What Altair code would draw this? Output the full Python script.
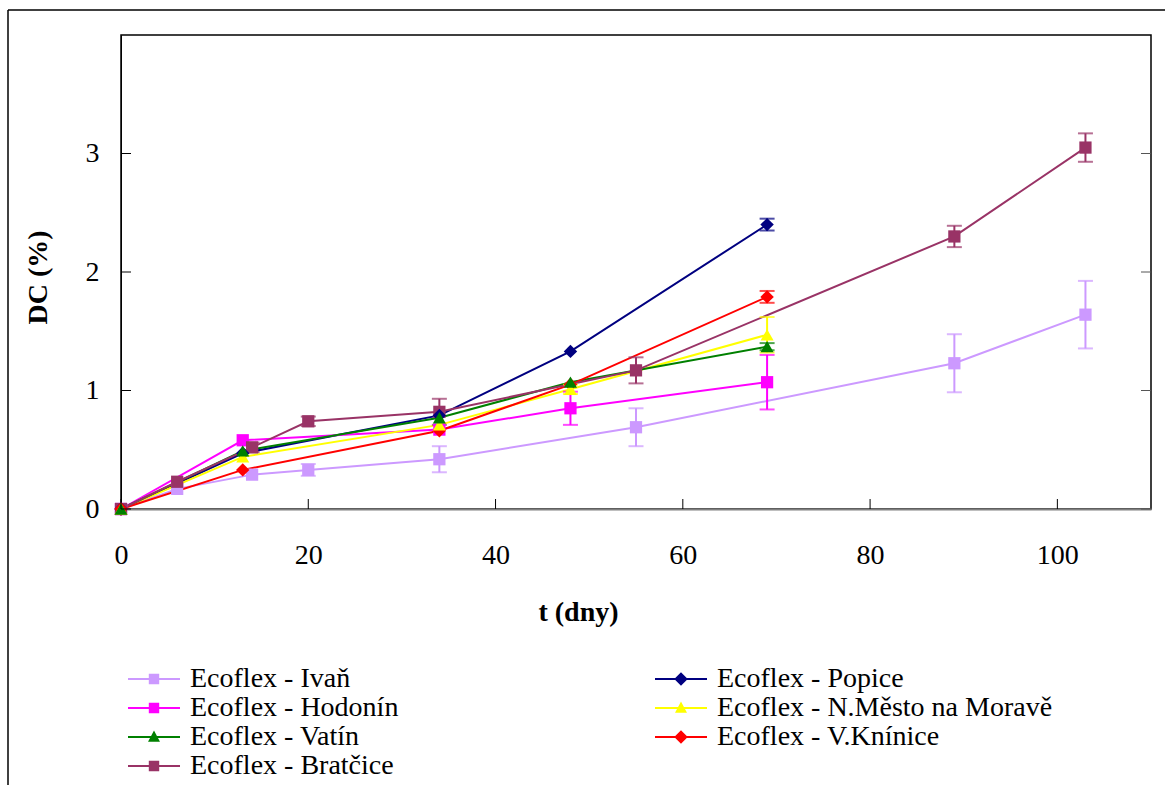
import altair as alt
import pandas as pd

# ---------------- data ----------------
series_names = [
    "Ecoflex - Ivaň",
    "Ecoflex - Popice",
    "Ecoflex - Hodonín",
    "Ecoflex - N.Město na Moravě",
    "Ecoflex - Vatín",
    "Ecoflex - V.Knínice",
    "Ecoflex - Bratčice",
]
series_colors = ["#CC99FF", "#000080", "#FF00FF", "#FFFF00", "#008000", "#FF0000", "#993366"]
series_markers = ["square", "diamond", "square", "triangle", "triangle", "diamond", "square"]
# legend reading order (column by column)
legend_order = [0, 2, 4, 6, 1, 3, 5]

ivan_t = [0, 6, 14, 20, 34, 55, 89, 103]
ivan_y = [0, 0.17, 0.29, 0.33, 0.42, 0.69, 1.23, 1.64]
ivan_e = [0, 0, 0, 0.05, 0.11, 0.16, 0.245, 0.285]

popice_t = [0, 13, 34, 48, 69]
popice_y = [0, 0.47, 0.79, 1.33, 2.40]
popice_e = [0, 0, 0, 0, 0.05]

hodonin_t = [0, 13, 34, 48, 69]
hodonin_y = [0, 0.58, 0.67, 0.85, 1.07]
hodonin_e = [0, 0, 0, 0.14, 0.23]

nmesto_t = [0, 13, 34, 48, 69]
nmesto_y = [0, 0.44, 0.71, 1.01, 1.47]
nmesto_e = [0, 0, 0, 0.04, 0.15]

vatin_t = [0, 13, 34, 48, 69]
vatin_y = [0, 0.49, 0.77, 1.07, 1.37]
vatin_e = [0, 0, 0, 0, 0.03]

vknin_t = [0, 13, 34, 48, 69]
vknin_y = [0, 0.33, 0.66, 1.05, 1.79]
vknin_e = [0, 0, 0, 0, 0.05]

bratc_t = [0, 6, 14, 20, 34, 55, 89, 103]
bratc_y = [0, 0.23, 0.52, 0.74, 0.82, 1.17, 2.30, 3.05]
bratc_e = [0, 0, 0.04, 0.04, 0.11, 0.11, 0.09, 0.12]

x_ticks = [0, 20, 40, 60, 80, 100]
y_ticks = [0, 1, 2, 3]

# ---------------- table ----------------
all_series = [
    (ivan_t, ivan_y, ivan_e),
    (popice_t, popice_y, popice_e),
    (hodonin_t, hodonin_y, hodonin_e),
    (nmesto_t, nmesto_y, nmesto_e),
    (vatin_t, vatin_y, vatin_e),
    (vknin_t, vknin_y, vknin_e),
    (bratc_t, bratc_y, bratc_e),
]
rows = []
for i, (name, (ts, ys, es)) in enumerate(zip(series_names, all_series)):
    for t, y, e in zip(ts, ys, es):
        rows.append({"series": name, "idx": i, "t": t, "y": y, "err": e,
                     "lo": y - e, "hi": y + e, "marker": series_markers[i]})
df = pd.DataFrame(rows)

FONT = "Liberation Serif"
W, H = 1030, 474

xscale = alt.Scale(domain=[0, 110], nice=False, zero=False)
yscale = alt.Scale(domain=[0, 4], nice=False, zero=False)
cscale = alt.Scale(domain=series_names, range=series_colors)

xaxis = alt.Axis(values=x_ticks, format="d", tickSize=0, labelPadding=32, labelFont=FONT,
                 labelFontSize=28, labelColor="black", labelFlush=False,
                 domainColor="#808080", domainWidth=2, grid=False, title="t (dny)",
                 titleFont=FONT, titleFontSize=28, titleFontWeight="bold",
                 titleColor="black", titleX=457, titleY=103, titleBaseline="middle")
yaxis = alt.Axis(values=y_ticks, format="d", tickSize=0, labelPadding=22, labelFont=FONT,
                 labelFontSize=28, labelColor="black", labelFlush=False,
                 domainColor="black", domainWidth=1, grid=False, title="DC (%)",
                 titleFont=FONT, titleFontSize=28, titleFontWeight="bold",
                 titleColor="black", titleX=-83, titleY=242, titleBaseline="middle")

base = alt.Chart(df)

X = alt.X("t:Q", scale=xscale, axis=xaxis)
Y = alt.Y("y:Q", scale=yscale, axis=yaxis)
C = alt.Color("series:N", scale=cscale, legend=None)

# legend-only layer (draws nothing; legend built from explicit scale domains)
LINE = "M-2,-0.08L2,-0.08L2,0.08L-2,0.08Z "
legend_paths = {
    "square": LINE + "M-0.4,-0.4L0.4,-0.4L0.4,0.4L-0.4,0.4Z",
    "diamond": LINE + "M0,-0.52L0.52,0L0,0.52L-0.52,0Z",
    "triangle": LINE + "M0,-0.5L0.46,0.36L-0.46,0.36Z",
}
leg_names = [series_names[i] for i in legend_order]
leg_colors = [series_colors[i] for i in legend_order]
leg_shapes = [legend_paths[series_markers[i]] for i in legend_order]
leg = alt.Legend(title=None, orient="none", legendX=19, legendY=630, columns=2,
                 columnPadding=256, rowPadding=1, symbolSize=676, symbolStrokeWidth=0,
                 labelFont=FONT, labelFontSize=28, labelColor="black", labelOffset=22,
                 labelLimit=600, symbolOpacity=1)
legend_layer = base.transform_filter("datum.t < 0").mark_point(filled=True, opacity=1).encode(
    x="t:Q", y="y:Q",
    fill=alt.Fill("series:N", scale=alt.Scale(domain=leg_names, range=leg_colors), legend=leg),
    shape=alt.Shape("series:N", scale=alt.Scale(domain=leg_names, range=leg_shapes), legend=leg),
)

lines = base.mark_line(strokeWidth=2).encode(x=X, y=Y, color=C, detail="series:N")

eb = base.transform_filter("datum.err > 0")
err_rules = eb.mark_rule(strokeWidth=2).encode(x="t:Q", y="lo:Q", y2="hi:Q", color=C)
cap_lo = eb.mark_tick(orient="horizontal", size=15, thickness=2).encode(x="t:Q", y="lo:Q", color=C)
cap_hi = eb.mark_tick(orient="horizontal", size=15, thickness=2).encode(x="t:Q", y="hi:Q", color=C)

pts_sq = base.transform_filter("datum.marker == 'square'").mark_point(
    shape="square", filled=True, size=150, opacity=1).encode(x="t:Q", y="y:Q", color=C)
pts_di = base.transform_filter("datum.marker == 'diamond'").mark_point(
    shape="diamond", filled=True, size=180, opacity=1).encode(x="t:Q", y="y:Q", color=C)
pts_tr = base.transform_filter("datum.marker == 'triangle'").mark_point(
    shape="triangle-up", filled=True, size=170, opacity=1).encode(x="t:Q", y="y:Q", color=C)

# inward ticks
xt = alt.Chart(pd.DataFrame({"t": x_ticks})).mark_rule(color="black", strokeWidth=1).encode(
    x="t:Q", y=alt.value(H), y2=alt.value(H - 10))
ydf = pd.DataFrame({"y": y_ticks})
yt_l = alt.Chart(ydf).mark_rule(color="black", strokeWidth=1).encode(
    y="y:Q", x=alt.value(0), x2=alt.value(10))
yt_r = alt.Chart(ydf).mark_rule(color="#555555", strokeWidth=1).encode(
    y="y:Q", x=alt.value(W - 10), x2=alt.value(W))

# outer frame (decoration)
one = pd.DataFrame({"a": [0]})
frame_top = alt.Chart(one).mark_rule(color="black", strokeWidth=1.5).encode(
    x=alt.value(-113), x2=alt.value(1054), y=alt.value(-25))
frame_left = alt.Chart(one).mark_rule(color="black", strokeWidth=1.5).encode(
    x=alt.value(-113), y=alt.value(-25), y2=alt.value(760))

chart = alt.layer(
    legend_layer, lines, err_rules, cap_lo, cap_hi, pts_sq, pts_di, pts_tr,
    xt, yt_l, yt_r, frame_top, frame_left,
).properties(
    width=W, height=H,
    autosize=alt.AutoSizeParams(type="none"),
    padding={"left": 121, "top": 35, "right": 14, "bottom": 276},
    background="white",
).configure_view(stroke="black", strokeWidth=1.5)

chart.save("out.html", embed_options={"renderer": "svg", "actions": False})
